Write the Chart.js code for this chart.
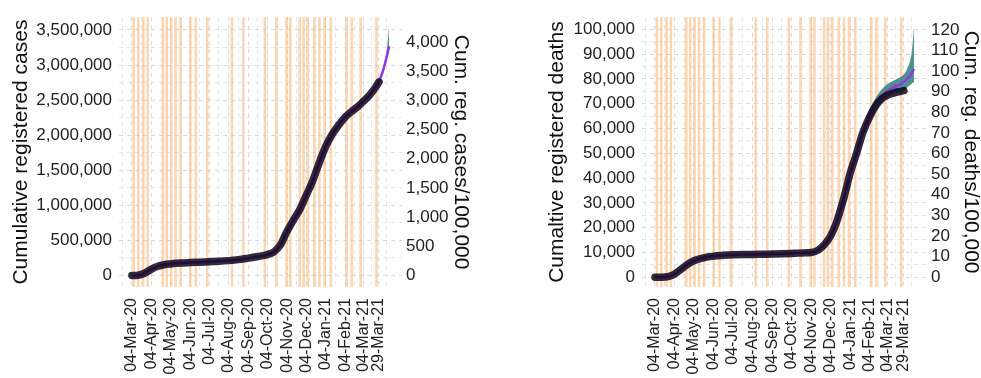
<!DOCTYPE html>
<html>
<head>
<meta charset="utf-8">
<script src="https://cdn.jsdelivr.net/npm/chart.js@4.4.1/dist/chart.umd.min.js"></script>
<style>
  html, body { margin: 0; padding: 0; background: #fff; }
  #wrap { position: relative; width: 981px; height: 378px; overflow: hidden; }
  .panel { position: absolute; top: 0; }
  #casesPanel { left: 0; }
  #deathsPanel { left: 490px; }
</style>
</head>
<body>
<div id="wrap">
  <div class="panel" id="casesPanel"><canvas id="cases" width="490" height="378"></canvas></div>
  <div class="panel" id="deathsPanel"><canvas id="deaths" width="491" height="378"></canvas></div>
</div>
<script>
// Population used for the per-100,000 secondary axes
const population = 83166711;

// Date axis
const tickDates = ['2020-03-04','2020-04-04','2020-05-04','2020-06-04','2020-07-04','2020-08-04',
  '2020-09-04','2020-10-04','2020-11-04','2020-12-04','2021-01-04','2021-02-04','2021-03-04','2021-03-29'];
const tickLabels = ['04-Mar-20','04-Apr-20','04-May-20','04-Jun-20','04-Jul-20','04-Aug-20',
  '04-Sep-20','04-Oct-20','04-Nov-20','04-Dec-20','04-Jan-21','04-Feb-21','04-Mar-21','29-Mar-21'];

// Highlighted periods (orange bands)
const bandDates = ['2020-03-07','2020-03-14','2020-03-22','2020-03-29','2020-04-22','2020-04-28',
  '2020-05-05','2020-05-12','2020-05-20','2020-06-04','2020-06-13','2020-07-01','2020-08-09',
  '2020-08-27','2020-09-30','2020-10-18','2020-11-03','2020-11-09','2020-11-24','2020-11-30',
  '2020-12-07','2020-12-17','2020-12-25','2021-01-02','2021-01-12','2021-02-06','2021-02-14',
  '2021-02-28','2021-03-25'];

// Registered (observed) cumulative counts
const observedDates = ['2020-03-04','2020-03-14','2020-03-24','2020-04-04','2020-04-14','2020-04-24',
  '2020-05-04','2020-05-19','2020-06-04','2020-06-19','2020-07-04','2020-07-19','2020-08-04',
  '2020-08-19','2020-09-04','2020-09-19','2020-10-04','2020-10-14','2020-10-24','2020-11-04',
  '2020-11-14','2020-11-24','2020-12-04','2020-12-14','2020-12-24','2021-01-04','2021-01-14',
  '2021-01-24','2021-02-04','2021-02-14','2021-02-24','2021-03-04','2021-03-14','2021-03-24','2021-03-29'];
const observedCases = [300, 4600, 32000, 91000, 131000, 154000, 165000, 177000, 184000, 190000,
  196000, 202000, 212000, 226000, 248000, 270000, 298000, 334000, 430000, 630000, 790000, 940000,
  1140000, 1340000, 1590000, 1840000, 2010000, 2140000, 2260000, 2340000, 2410000, 2480000,
  2570000, 2690000, 2760000];
const observedDeaths = [0, 10, 150, 1300, 3200, 5200, 6600, 7800, 8500, 8800, 9000, 9100, 9150,
  9250, 9330, 9420, 9560, 9700, 9800, 9950, 10800, 13000, 16500, 22500, 31000, 42000, 50000,
  58500, 65000, 69500, 72300, 73500, 74400, 75000, 75300];

// Model fit and projection
const modelDates = observedDates.concat(['2021-04-03','2021-04-08','2021-04-11','2021-04-14']);
const modelCases = [300, 4600, 32000, 91000, 131000, 154000, 165000, 177000, 184000, 190000,
  196000, 202000, 212000, 226000, 248000, 270000, 298000, 334000, 430000, 630000, 790000, 940000,
  1140000, 1340000, 1590000, 1840000, 2010000, 2140000, 2260000, 2340000, 2410000, 2480000,
  2570000, 2690000, 2770000, 2880000, 3040000, 3150000, 3270000];
const modelDeaths = [0, 10, 150, 1300, 3200, 5200, 6600, 7800, 8500, 8800, 9000, 9100, 9150,
  9250, 9330, 9420, 9560, 9700, 9800, 9950, 10800, 13000, 16500, 22500, 31000, 42000, 50000,
  58500, 65500, 70300, 73600, 75300, 76800, 77900, 78800, 79900, 81500, 82800, 84000];

// Prediction interval
const intervalDates = ['2020-12-04','2020-12-14','2020-12-24','2021-01-04','2021-01-14','2021-01-24',
  '2021-02-04','2021-02-14','2021-02-24','2021-03-04','2021-03-14','2021-03-24','2021-03-29',
  '2021-04-03','2021-04-08','2021-04-11','2021-04-14'];
const casesLower = [1130000, 1330000, 1580000, 1825000, 1995000, 2125000, 2245000, 2325000,
  2395000, 2465000, 2555000, 2675000, 2750000, 2860000, 3010000, 3120000, 3220000];
const casesUpper = [1150000, 1350000, 1600000, 1855000, 2025000, 2155000, 2275000, 2355000,
  2425000, 2495000, 2585000, 2710000, 2790000, 2910000, 3090000, 3250000, 3570000];
const deathsLower = [16200, 21800, 30000, 40500, 48500, 56500, 63000, 67800, 71000, 72800,
  74200, 74800, 75300, 76500, 77500, 78200, 78800];
const deathsUpper = [16800, 23200, 32000, 43500, 51800, 60500, 68000, 72800, 76200, 78000,
  79500, 80800, 81800, 84000, 87500, 92000, 101000];

// Value axes
const casesTicks = [0, 500000, 1000000, 1500000, 2000000, 2500000, 3000000, 3500000];
const casesRateTicks = [0, 500, 1000, 1500, 2000, 2500, 3000, 3500, 4000];
const deathsTicks = [0, 10000, 20000, 30000, 40000, 50000, 60000, 70000, 80000, 90000, 100000];
const deathsRateTicks = [0, 10, 20, 30, 40, 50, 60, 70, 80, 90, 100, 110, 120];

const FONT = "'Liberation Sans', Arial, sans-serif";
const DAY0 = Date.UTC(2020, 2, 4);
function dayOf(s) {
  const [y, m, d] = s.split('-').map(Number);
  return (Date.UTC(y, m - 1, d) - DAY0) / 86400000;
}
function fmt(v) {
  return String(Math.round(v)).replace(/\B(?=(\d{3})+(?!\d))/g, ',');
}
function points(dates, values) {
  return dates.map((d, i) => ({ x: dayOf(d), y: values[i] }));
}
// major breaks plus the minor gridlines half-way between them
function withMidpoints(major) {
  const out = [];
  const step0 = major[1] - major[0];
  const stepN = major[major.length - 1] - major[major.length - 2];
  const ext = [major[0] - step0].concat(major, [major[major.length - 1] + stepN]);
  for (let i = 0; i < ext.length - 1; i++) {
    if (i > 0) out.push({ v: ext[i], major: true });
    out.push({ v: (ext[i] + ext[i + 1]) / 2, major: false });
  }
  return out;
}

const tickDays = tickDates.map(dayOf);
const bandDays = bandDates.map(dayOf);
const xMin = -20.3, xMax = 426.3;

const bandsPlugin = {
  id: 'bands',
  beforeDatasetsDraw(chart) {
    const { ctx, chartArea, scales } = chart;
    ctx.save();
    ctx.fillStyle = 'rgba(251,178,112,0.55)';
    bandDays.forEach(d => {
      const x0 = scales.x.getPixelForValue(d - 2);
      const x1 = scales.x.getPixelForValue(d + 2);
      ctx.fillRect(x0, chartArea.top, x1 - x0, chartArea.bottom - chartArea.top);
    });
    ctx.restore();
  }
};

function makePanel(id, o) {
  const xGrid = withMidpoints(tickDays).filter(t => t.v > xMin && t.v < xMax);
  const yGrid = withMidpoints(o.ticks).filter(t => t.v > o.yMin && t.v < o.yMax);
  const gridColor = (c) => (c.tick && c.tick.major) ? '#d9d9d9' : '#e6e6e6';
  new Chart(document.getElementById(id), {
    type: 'line',
    data: {
      datasets: [
        { label: 'observed', data: points(observedDates, o.observed), borderColor: 'rgba(16,6,28,0.86)',
          borderWidth: 7.5, pointRadius: 0, cubicInterpolationMode: 'monotone',
          borderCapStyle: 'round', borderJoinStyle: 'round', fill: false },
        { label: 'model', data: points(modelDates, o.model), borderColor: '#9136e6',
          borderWidth: 2.5, pointRadius: 0, cubicInterpolationMode: 'monotone', fill: false },
        { label: 'upper', data: points(intervalDates, o.upper), borderWidth: 0, borderColor: 'rgba(0,0,0,0)',
          pointRadius: 0, cubicInterpolationMode: 'monotone', fill: '+1',
          backgroundColor: 'rgba(48,128,124,0.85)' },
        { label: 'lower', data: points(intervalDates, o.lower), borderWidth: 0, borderColor: 'rgba(0,0,0,0)',
          pointRadius: 0, cubicInterpolationMode: 'monotone', fill: false }
      ]
    },
    options: {
      responsive: false,
      animation: false,
      devicePixelRatio: 1,
      layout: { padding: { top: 12, left: 0, right: 0, bottom: 0 } },
      plugins: { legend: { display: false }, tooltip: { enabled: false } },
      scales: {
        x: {
          type: 'linear', min: xMin, max: xMax,
          afterBuildTicks: s => { s.ticks = xGrid.map(t => ({ value: t.v, major: t.major })); },
          afterFit: s => { s.height = 91; },
          grid: { color: gridColor, lineWidth: 1, drawTicks: false },
          border: { display: false, dash: [4, 4] },
          ticks: {
            autoSkip: false, minRotation: 90, maxRotation: 90, padding: 11,
            color: '#222', font: { family: FONT, size: 16 },
            callback: v => { const i = tickDays.indexOf(v); return i >= 0 ? tickLabels[i] : ''; }
          }
        },
        y: {
          type: 'linear', position: 'left', min: o.yMin, max: o.yMax,
          afterBuildTicks: s => { s.ticks = yGrid.map(t => ({ value: t.v, major: t.major })); },
          afterFit: s => { s.width = o.leftWidth; },
          grid: { color: gridColor, lineWidth: 1, drawTicks: false },
          border: { display: false, dash: [4, 4] },
          ticks: {
            autoSkip: false, padding: 7, color: '#222', font: { family: FONT, size: 17 },
            callback: v => (o.ticks.indexOf(v) >= 0 ? fmt(v) : '')
          },
          title: { display: true, text: o.title, color: '#111',
            font: { family: FONT, size: 21, lineHeight: 1 }, padding: { top: o.titlePad, bottom: 0 } }
        },
        y2: {
          type: 'linear', position: 'right',
          min: o.yMin / population * 1e5, max: o.yMax / population * 1e5,
          afterBuildTicks: s => { s.ticks = o.rateTicks.map(v => ({ value: v })); },
          afterFit: s => { s.width = o.rightWidth; },
          grid: { display: false, drawTicks: false },
          border: { display: false },
          ticks: { autoSkip: false, padding: 4, color: '#222', font: { family: FONT, size: 17 },
            callback: v => fmt(v) },
          title: { display: true, text: o.rateTitle, color: '#111',
            font: { family: FONT, size: 21, lineHeight: 1 }, padding: { top: o.rateTitlePad, bottom: 0 } }
        }
      }
    },
    plugins: [bandsPlugin]
  });
}

makePanel('cases', {
  observed: observedCases, model: modelCases, lower: casesLower, upper: casesUpper,
  yMin: -164000, yMax: 3682000, ticks: casesTicks, rateTicks: casesRateTicks,
  title: 'Cumulative registered cases', rateTitle: 'Cum. reg. cases/100,000',
  leftWidth: 119, rightWidth: 88, titlePad: 10.5, rateTitlePad: 18.5
});

makePanel('deaths', {
  observed: observedDeaths, model: modelDeaths, lower: deathsLower, upper: deathsUpper,
  yMin: -3970, yMax: 104900, ticks: deathsTicks, rateTicks: deathsRateTicks,
  title: 'Cumaltive registered deaths', rateTitle: 'Cum. reg. deaths/100,000',
  leftWidth: 152, rightWidth: 54, titlePad: 57, rateTitlePad: 0
});
</script>
</body>
</html>
